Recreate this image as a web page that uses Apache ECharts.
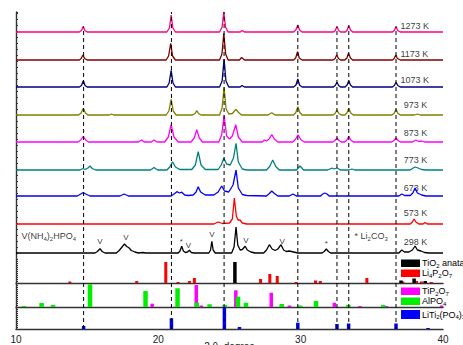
<!DOCTYPE html>
<html><head><meta charset="utf-8">
<script src="https://cdn.jsdelivr.net/npm/echarts@6/dist/echarts.min.js"></script>
<style>html,body{margin:0;padding:0;background:#fff}#c{width:463px;height:345px}</style>
</head><body><div id="c"></div>
<script>
// ---------- data ----------
const xTicks = [10, 20, 30, 40];
const tempNames = ['1273 K','1173 K','1073 K','973 K','873 K','773 K','673 K','573 K','298 K'];
const offsets = [227, 199, 172, 144, 117, 89, 63, 35, 6];
const labelLift = [6.5, 6.3, 7.3, 10, 9, 10, 7.7, 11, 11.5];
const colors = ['#FF0080','#800000','#000080','#808000','#FF00FF','#008080','#0000FF','#FF0000','#000000'];

const T1273 = [[10,0],[14.45,0],[14.6,1.5],[14.72,5.5],[14.84,1.5],[15,0],[20.6,0],[20.78,4],[20.9,17],[21.02,4],[21.2,0],[24.3,0],[24.48,5],[24.6,20],[24.72,5],[24.9,0],[25.75,0],[25.88,1.5],[26.05,0],[29.5,0],[29.66,2],[29.8,7],[29.92,2],[30.1,0],[32.3,0],[32.43,1.5],[32.55,5.5],[32.67,1.5],[32.8,0],[33.15,0],[33.27,2],[33.38,6.5],[33.5,2],[33.65,0],[36.45,0],[36.58,1.5],[36.7,5.5],[36.82,1.5],[37,0],[40,0]];
const T1173 = [[10,0],[14.45,0],[14.58,1.5],[14.7,5],[14.82,1.5],[15,0],[20.55,0],[20.72,4],[20.87,16.7],[21,4],[21.2,0],[24.3,0],[24.47,6],[24.6,26.7],[24.73,6],[24.9,0],[25.7,0],[25.85,2.5],[26.05,0],[29.5,0],[29.65,2],[29.78,8.3],[29.9,2],[30.1,0],[32.28,0],[32.42,1.5],[32.53,5],[32.66,1.5],[32.8,0],[33.1,0],[33.25,2],[33.36,6.7],[33.5,2],[33.65,0],[36.45,0],[36.57,1.5],[36.68,5],[36.8,1.5],[37,0],[40,0]];
const T1073 = [[10,0],[14.45,0],[14.6,1.5],[14.73,6.3],[14.85,1.5],[15,0],[20.6,0],[20.76,4],[20.9,16.7],[21.03,4],[21.2,0],[24.3,0],[24.48,6],[24.62,28],[24.75,6],[24.95,0],[25.75,0],[25.88,1.5],[26.05,0],[29.5,0],[29.67,2],[29.8,8],[29.92,2],[30.1,0],[32.3,0],[32.43,1.5],[32.55,4.7],[32.67,1.5],[32.8,0],[33.12,0],[33.26,2],[33.38,6.3],[33.5,2],[33.65,0],[36.45,0],[36.58,1.5],[36.7,4.7],[36.82,1.5],[37,0],[40,0]];
const T973 = [[10,0],[14.4,0],[14.57,2],[14.73,6.7],[14.88,2],[15.05,0],[16.55,0],[16.7,1],[16.85,0],[20.55,0],[20.74,4],[20.9,15.7],[21.05,4],[21.25,0],[22.4,0],[22.58,1.5],[22.7,4.3],[22.82,1.5],[23,0],[24.3,0],[24.48,7],[24.62,27.7],[24.76,6],[24.95,1],[25.2,1.5],[25.35,4],[25.46,5.7],[25.6,3],[25.85,0],[27.7,0],[27.97,2.3],[28.2,0],[29.5,0],[29.66,2.5],[29.8,8.3],[29.94,2.5],[30.1,0],[32.28,0],[32.42,1.5],[32.55,5],[32.68,1.5],[32.85,0],[33.1,0],[33.25,2],[33.38,6.7],[33.52,2],[33.7,0],[36.42,0],[36.57,1.8],[36.7,5.7],[36.83,1.8],[37,0],[38,0],[38.2,1],[38.4,0],[40,0]];
const T873 = [[10,0],[14.35,0],[14.55,2],[14.72,5.7],[14.9,2],[15.1,0],[18.6,0],[18.83,2],[19,0],[19.5,0],[19.7,2],[19.9,0],[20.45,0],[20.7,5],[20.9,17.3],[21.1,5],[21.4,0],[22.3,0],[22.52,4],[22.7,12.3],[22.88,4],[23.1,0],[24.25,0],[24.45,7],[24.62,26.3],[24.8,6],[25,3],[25.2,6],[25.44,17.3],[25.62,5],[25.9,0],[27.3,0],[27.45,2],[27.6,1],[27.78,3],[27.97,7.3],[28.15,3],[28.4,0],[29.45,0],[29.63,2.5],[29.82,7.3],[30,2.5],[30.25,0],[32.25,0],[32.4,1.5],[32.55,4],[32.7,1.5],[32.85,0],[33.1,0],[33.25,2],[33.38,5.7],[33.52,2],[33.7,0],[36.4,0],[36.55,1.5],[36.7,4],[36.85,1.5],[37,0],[37.85,0],[38.09,2],[38.3,0.5],[38.5,1],[38.7,0],[40,0]];
const T773 = [[10,0],[14.5,0],[14.7,1.5],[14.85,0.5],[15.05,2],[15.2,4],[15.35,1.5],[15.6,0],[19.45,0],[19.7,2.5],[19.95,0],[20.6,0],[20.8,3],[21,8.3],[21.2,3],[21.5,0.5],[22.35,0.5],[22.6,5],[22.8,18.3],[23,5],[23.3,0.5],[24.2,0.5],[24.42,5],[24.6,11.7],[24.8,6],[25.05,5],[25.28,12],[25.46,26.7],[25.62,8],[25.9,1],[26.2,0],[27.6,0],[27.82,3.5],[28.04,10],[28.25,3.5],[28.5,0],[29.7,0],[29.96,4],[30.2,0],[31.9,0],[32.2,2],[32.35,1],[32.55,2],[32.8,0],[33.4,0],[33.6,1],[33.8,0],[37.7,0],[37.9,2],[38.05,3],[38.25,2],[38.5,0.5],[38.8,0],[40,0]];
const T673 = [[10,0],[14.3,0],[14.55,2],[14.7,3.3],[14.9,2],[15.2,0],[17.3,0],[17.6,2],[17.9,0],[20.9,0],[21.15,2.5],[21.3,4.3],[21.48,3],[21.65,3.8],[21.85,1],[22.1,0.5],[22.45,1],[22.65,4],[22.8,9.3],[22.97,4],[23.3,1],[23.9,1],[24.2,4],[24.45,10],[24.65,5],[24.95,4],[25.25,11],[25.46,26],[25.62,8],[25.9,1.5],[26.2,0.5],[27.6,0],[27.8,2.5],[27.97,5],[28.15,2.5],[28.4,0],[29.2,0],[29.46,2],[29.7,0],[31.4,0],[31.55,2],[31.7,3],[31.85,2],[32,0],[36.9,0],[37.1,2],[37.3,0.5],[37.7,0.5],[37.88,3],[38.04,8],[38.2,3],[38.5,1],[38.8,0],[40,0]];
const T573 = [[10,0],[23.9,0],[24.2,2],[24.5,0.5],[25,1],[25.2,5],[25.34,26],[25.48,8],[25.6,4],[25.74,4],[25.9,1],[26.2,0],[37.7,0],[37.85,2],[37.97,5],[38.1,2],[38.3,0],[38.6,0],[38.74,1.5],[38.9,0],[40,0]];
const T298 = [[10,0],[15.55,0],[15.72,1.5],[15.9,4.3],[16.05,1.5],[16.25,0],[17.05,0],[17.25,2.5],[17.45,6],[17.62,9],[17.78,6.5],[17.95,5],[18.1,2.5],[18.35,1],[18.6,0],[18.9,0.5],[19.1,0],[21.4,0],[21.52,2],[21.64,6.7],[21.76,2],[21.9,0.5],[22.05,1],[22.18,2.7],[22.32,0.5],[22.5,0],[23.55,0],[23.67,3],[23.76,11.7],[23.85,3],[24,0],[25.15,0],[25.32,6],[25.46,26],[25.58,8],[25.75,3],[25.9,3.5],[26.1,6.7],[26.25,3],[26.5,1],[26.8,0],[27.4,0],[27.6,3],[27.8,8.3],[28,4],[28.2,2.5],[28.4,4],[28.62,8.3],[28.8,3],[29,1.5],[29.2,2],[29.5,1],[29.8,0],[31.5,0],[31.65,1.5],[31.8,4],[31.95,1.5],[32.1,0],[36.9,0],[37.1,3],[37.3,1],[37.6,1],[37.85,3],[38.04,7],[38.2,3],[38.45,2],[38.7,0.5],[39,0],[40,0]];
const traces = [T1273, T1173, T1073, T973, T873, T773, T673, T573, T298];

// reference patterns [2theta, relative intensity]
const refLi4P2O7 = [[13.8,1.5],[18.5,2],[20.54,21],[21.4,1],[22.2,2],[22.55,5],[27.2,4],[27.85,9],[28.37,7],[29.7,1],[31.06,2.5],[31.4,2],[34.67,5],[37.2,1.5],[38.16,2],[38.5,1.5],[39.2,1]];
const refTiO2 = [[25.38,21],[37.05,2.5],[37.97,4.5],[38.75,2]];
const refTiP2O7 = [[19.6,3.3],[22.7,22],[23.05,1.5],[25.48,16.7],[27.97,14.3],[29.25,1.5],[32.4,4.3],[34.2,1],[36.05,1],[39.94,1.5]];
const refAlPO4 = [[10.55,1],[11.8,4],[12.6,2],[15.2,22.7],[19.1,16],[21.35,18.7],[22.7,4.3],[23.6,2.7],[24.67,2],[25.6,10.3],[26.16,4.3],[28.67,3],[29.96,1.5],[31.08,6],[33.35,2],[35.8,2]];
const refLiTi2PO43 = [[14.75,3],[20.92,10.7],[24.64,22],[25.7,2],[29.8,6.3],[32.55,5],[33.37,5.5],[36.7,5.5],[38.95,1]];

// dashed guide lines (2theta, top value on main scale)
const guidePos = [14.75, 20.92, 24.62, 29.8, 32.55, 33.38, 36.7];
const guideTop = [232.5, 247, 247, 234, 232.5, 233.5, 232.5];

// annotations on 298 K pattern
const markX = [15.9, 17.72, 21.62, 22.12, 23.77, 26.16, 28.7, 31.8];
const markY = [17.3, 22, 18, 14, 24.5, 19, 18, 15.5];
const markText = ['V','V','*','V','V','V','V','*'];

// ---------- chart ----------
const FF = '"Liberation Sans", Arial, sans-serif';
const chart = echarts.init(document.getElementById('c'), null, {renderer:'svg'});
const subRich = {
  n: {fontSize: 9, fontFamily: FF, color: '#000', lineHeight: 9},
  s: {fontSize: 6, fontFamily: FF, color: '#000', lineHeight: 6, padding: [2.5,0,-2.5,0]}
};
const L = 16, R = 20;
const grids = [
  {left:L, right:R, top:12, height:247},
  {left:L, right:R, top:259, height:24},
  {left:L, right:R, top:283, height:24},
  {left:L, right:R, top:307, height:22},
  {left:L, right:R, top:12, height:317}
].map(g=>Object.assign(g, {containLabel:false, outerBoundsMode:'none'}));
const axLine = {show:true, lineStyle:{color:'#333', width:1.4}};
const xAxes = grids.map((g,i)=>({
  type:'value', gridIndex:i, min:10, max:40, interval:10,
  show: i>=1 && i<=3,
  axisLine: axLine, axisTick:{show:false}, splitLine:{show:false},
  axisLabel:{show:i===3, fontSize:10, color:'#222', fontFamily:FF, margin:5},
  name: i===3 ? '2 θ, degree' : '', nameLocation:'middle', nameGap:12, nameMoveOverlap:false,
  nameTextStyle:{fontSize:10, color:'#222', fontFamily:FF, verticalAlign:'top'}
}));
const yMax = [247, 24, 24, 22, 247];
const yMin = [0, 0, 0, 0, -70];
const yAxes = grids.map((g,i)=>({
  type:'value', gridIndex:i, min:yMin[i], max:yMax[i], interval: i===0 ? 6 : 2,
  show: i<4,
  axisLine: axLine,
  axisTick:{show:true, inside:true, length:2, lineStyle:{color:'#333', width:1}},
  axisLabel:{show:false}, splitLine:{show:false}
}));

const series = [];
traces.forEach((t,i)=>{
  series.push({type:'line', name:tempNames[i], xAxisIndex:0, yAxisIndex:0,
    data: t.map(p=>[p[0], p[1]+offsets[i]]), symbol:'none', silent:true,
    lineStyle:{color:colors[i], width:1.3}});
});
function bars(data, xi, color, w){
  return {type:'bar', xAxisIndex:xi, yAxisIndex:xi, data:data, barWidth:w, barGap:'-100%',
    itemStyle:{color:color}, silent:true};
}
series.push(bars(refLi4P2O7, 1, '#FF0000', 3));
series.push(bars(refTiO2, 1, '#000000', 3.5));
series.push(bars(refTiP2O7, 2, '#FF00FF', 3.5));
series.push(bars(refAlPO4, 2, '#00EE00', 4.5));
series.push(bars(refLiTi2PO43, 3, '#0000FF', 3.5));
guidePos.forEach((p,i)=>{
  series.push({type:'line', xAxisIndex:4, yAxisIndex:4, data:[[p,-70],[p,guideTop[i]]],
    symbol:'none', silent:true, lineStyle:{color:'#000', width:1, type:[4,3]}});
});
// temperature labels
series.push({type:'scatter', xAxisIndex:0, yAxisIndex:0, symbolSize:1, itemStyle:{color:'transparent'}, silent:true,
  data: tempNames.map((n,i)=>({value:[i<3?36.98:37.2, offsets[i]+labelLift[i]], name:n})),
  label:{show:true, position:'right', distance:0, formatter:p=>p.name, fontSize:9, fontFamily:FF, color:'#000'}});
// V / * marks
series.push({type:'scatter', xAxisIndex:0, yAxisIndex:0, symbolSize:1, itemStyle:{color:'transparent'}, silent:true,
  data: markX.map((x,i)=>({value:[x, markY[i]], name:markText[i]})),
  label:{show:true, position:'inside', formatter:p=>p.name, fontSize:8, fontFamily:FF, color:'#000'}});
// phase notes
series.push({type:'scatter', xAxisIndex:0, yAxisIndex:0, symbolSize:1, itemStyle:{color:'transparent'}, silent:true,
  data: [{value:[10.35, 23], name:'{n|V(NH}{s|4}{n|)}{s|2}{n|HPO}{s|4}'},
         {value:[33.75, 23], name:'{n|* Li}{s|2}{n|CO}{s|3}'}],
  label:{show:true, position:'right', distance:0, formatter:p=>p.name, rich:subRich}});

const legendItems = [
  {c:'#000000', y:259.5, h:7.5, t:'{n|TiO}{s|2}{n| anatase}'},
  {c:'#FF0000', y:269.5, h:7.5, t:'{n|Li}{s|4}{n|P}{s|2}{n|O}{s|7}'},
  {c:'#FF00FF', y:287.5, h:7.5, t:'{n|TiP}{s|2}{n|O}{s|7}'},
  {c:'#00EE00', y:297.5, h:7.5, t:'{n|AlPO}{s|4}'},
  {c:'#0000FF', y:310, h:9, t:'{n|LiTi}{s|2}{n|(PO}{s|4}{n|)}{s|3}'}
];
const graphic = [];
legendItems.forEach(it=>{
  graphic.push({type:'rect', shape:{x:401, y:it.y, width:19, height:it.h}, style:{fill:it.c}, silent:true});
  graphic.push({type:'text', x:422, y:it.y+it.h/2, style:{text:it.t, rich:subRich, verticalAlign:'middle', align:'left'}, silent:true});
});

chart.setOption({
  animation:false,
  backgroundColor:'#fff',
  grid:grids, xAxis:xAxes, yAxis:yAxes, series:series, graphic:graphic
});
</script></body></html>
